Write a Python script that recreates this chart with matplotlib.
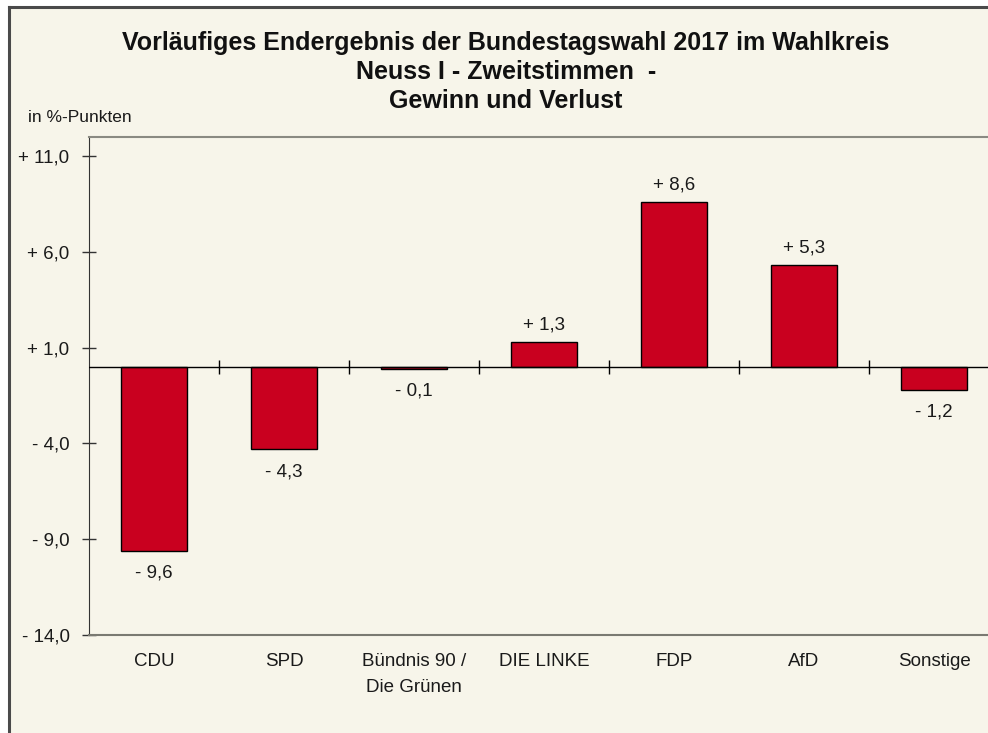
import matplotlib
matplotlib.use("Agg")
import matplotlib.pyplot as plt
from matplotlib.lines import Line2D

plt.rcParams['font.family'] = ['Liberation Sans', 'DejaVu Sans']

categories = ["CDU", "SPD", "Bündnis 90 /\nDie Grünen", "DIE LINKE", "FDP", "AfD", "Sonstige"]
values = [-9.6, -4.3, -0.1, 1.3, 8.6, 5.3, -1.2]
yticks = [11, 6, 1, -4, -9, -14]
ytick_labels = ["+ 11,0", "+ 6,0", "+ 1,0", "- 4,0", "- 9,0", "- 14,0"]

bg = "#f7f5ea"
bar_color = "#c9001f"
txt = "#1a1a1a"
fs = 13.5

fig = plt.figure(figsize=(9.88, 7.33), dpi=100, facecolor="white")

# outer frame
fig.patches.append(matplotlib.patches.Rectangle((9/988, 0), 1, 1 - 7/733, transform=fig.transFigure,
                                                facecolor=bg, edgecolor="none", zorder=-10))
fig.lines.append(Line2D([9/988, 9/988], [0, 1 - 7/733], transform=fig.transFigure, color="#4a4a4a", lw=2.2))
fig.lines.append(Line2D([9/988, 1], [1 - 7/733, 1 - 7/733], transform=fig.transFigure, color="#4a4a4a", lw=2.2))

ax = fig.add_axes([89/988, 1 - 635/733, 910/988, 498/733])
ax.set_facecolor(bg)

x = list(range(len(categories)))
ax.bar(x, values, width=0.51, color=bar_color, edgecolor="black", linewidth=1.0, zorder=3)

ax.set_xlim(-0.5, len(categories) - 0.5)
ax.set_ylim(-14, 12)

ax.axhline(0, color="black", lw=1.0, zorder=4)
ax.vlines([i + 0.5 for i in x[:-1]], -0.35, 0.35, color="black", lw=1.0, zorder=4)

ax.set_yticks(yticks)
ax.set_yticklabels(ytick_labels, fontsize=fs, color=txt)
ax.tick_params(axis="y", direction="inout", length=10, width=1, pad=9, color="#333333")
ax.set_xticks(x)
ax.set_xticklabels(categories, fontsize=fs, color=txt, linespacing=1.7)
ax.tick_params(axis="x", length=0, pad=13)
for lab in ax.get_xticklabels():
    lab.set_verticalalignment("top")

ax.spines["right"].set_visible(False)
ax.spines["left"].set_color("#333333")
ax.spines["top"].set_color("#8a8a82")
ax.spines["bottom"].set_color("#7a7a72")
ax.spines["top"].set_linewidth(1.5)
ax.spines["bottom"].set_linewidth(1.5)

for xi, v in zip(x, values):
    s = ("+ " if v > 0 else "- ") + f"{abs(v):.1f}".replace(".", ",")
    if v > 0:
        ax.annotate(s, (xi, v), xytext=(0, 6), textcoords="offset points",
                    ha="center", va="bottom", fontsize=fs, color=txt)
    else:
        ax.annotate(s, (xi, v), xytext=(0, -10), textcoords="offset points",
                    ha="center", va="top", fontsize=fs, color=txt)

tkw = dict(ha="center", va="baseline", fontsize=18, fontweight="bold", color="#111111")
fig.text(506/988, 1 - 50/733, "Vorläufiges Endergebnis der Bundestagswahl 2017 im Wahlkreis", **tkw)
fig.text(506/988, 1 - 79/733, "Neuss I - Zweitstimmen  -", **tkw)
fig.text(506/988, 1 - 108/733, "Gewinn und Verlust", **tkw)
fig.text(28/988, 1 - 118/733, "in %-Punkten", ha="left", va="center", fontsize=12.5, color=txt)

fig.savefig("out.png", dpi=100, facecolor="white")
